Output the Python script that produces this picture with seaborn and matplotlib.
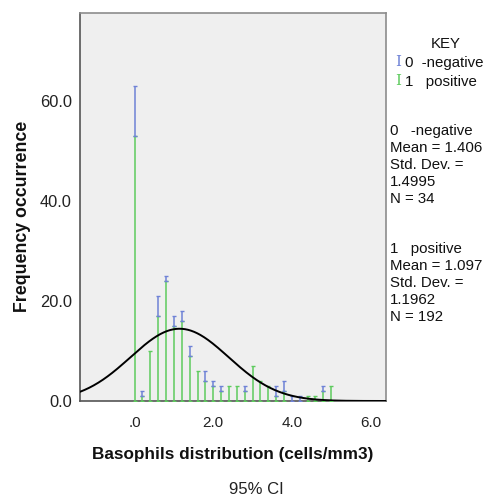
import numpy as np
import pandas as pd
import matplotlib
matplotlib.use("Agg")
import matplotlib.pyplot as plt
import seaborn as sns

# Bin centres (cells/mm3) and frequency per bin for each group
bin_centres = [0.0, 0.2, 0.4, 0.6, 0.8, 1.0, 1.2, 1.4, 1.6, 1.8, 2.0, 2.2, 2.4,
               2.6, 2.8, 3.0, 3.2, 3.4, 3.6, 3.8, 4.0, 4.2, 4.4, 4.6, 4.8, 5.0]
positive_counts = [53, 1, 10, 17, 24, 15, 16, 9, 6, 4, 3, 2, 3,
                   3, 2, 7, 4, 3, 1, 2, 0, 0, 1, 1, 2, 3]
negative_counts = [10, 1, 0, 4, 1, 2, 2, 2, 0, 2, 1, 1, 0,
                   0, 1, 0, 0, 0, 2, 2, 1, 1, 0, 0, 1, 0]

# Group summary statistics
group_labels = ["0   -negative", "1   positive"]
group_means = [1.406, 1.097]
group_sds = [1.4995, 1.1962]
group_ns = [34, 192]

x_ticks = [0.0, 2.0, 4.0, 6.0]
x_tick_labels = [".0", "2.0", "4.0", "6.0"]
y_ticks = [0, 20, 40, 60]
y_tick_labels = ["0.0", "20.0", "40.0", "60.0"]

BLUE = "#6F82D6"
GREEN = "#5DCB5D"
BIN_WIDTH = 0.2

sns.set_style("white", {"axes.facecolor": "#EFEFEF", "axes.edgecolor": "#8C8C8C"})
plt.rcParams["font.family"] = ["Liberation Sans", "DejaVu Sans"]

df = pd.DataFrame({"x": bin_centres, "pos": positive_counts, "neg": negative_counts})
df["top"] = df["pos"] + df["neg"]

fig = plt.figure(figsize=(5.03, 5.00), dpi=100)
ax = fig.add_axes([0.159, 0.198, 0.608, 0.776])

# Positive group: from zero up to its count
pos = df[df["pos"] > 0]
ax.errorbar(pos["x"], pos["pos"], yerr=[pos["pos"], np.zeros(len(pos))],
            fmt="none", ecolor=GREEN, elinewidth=1.1, capsize=1.4, capthick=1.0, zorder=3)

# Negative group stacked on top of the positive count
neg = df[df["neg"] > 0]
ax.errorbar(neg["x"], neg["top"], yerr=[neg["neg"], np.zeros(len(neg))],
            fmt="none", ecolor=BLUE, elinewidth=1.1, capsize=1.4, capthick=1.0, zorder=3)

# Normal curve for the pooled sample
n_tot = sum(group_ns)
mean_tot = sum(m * n for m, n in zip(group_means, group_ns)) / n_tot
ss = sum((n - 1) * s ** 2 + n * (m - mean_tot) ** 2
         for m, s, n in zip(group_means, group_sds, group_ns))
sd_tot = np.sqrt(ss / (n_tot - 1))
xs = np.linspace(-1.39, 6.39, 400)
ys = n_tot * BIN_WIDTH / (sd_tot * np.sqrt(2 * np.pi)) * np.exp(-0.5 * ((xs - mean_tot) / sd_tot) ** 2)
sns.lineplot(x=xs, y=ys, ax=ax, color="black", linewidth=1.4, zorder=4)

ax.set_xlim(-1.39, 6.39)
ax.set_ylim(0, 77.6)
ax.set_xticks(x_ticks)
ax.set_xticklabels(x_tick_labels)
ax.set_yticks(y_ticks)
ax.set_yticklabels(y_tick_labels)
ax.tick_params(axis="both", direction="out", length=5, width=1, color="#444444",
               labelcolor="#222222")
ax.tick_params(axis="y", labelsize=11.8, pad=1)
ax.tick_params(axis="x", labelsize=11, pad=6)
for sp in ax.spines.values():
    sp.set_linewidth(1.2)
ax.spines["bottom"].set_color("#555555")
ax.spines["left"].set_color("#555555")

ax.set_xlabel("Basophils distribution (cells/mm3)", fontsize=12.3, fontweight="bold",
              color="#111111", labelpad=12)
ax.set_ylabel("Frequency occurrence", fontsize=12.8, fontweight="bold",
              color="#111111")
ax.yaxis.set_label_coords(-0.16, 0.477)

fig.text(0.51, 0.022, "95% CI", ha="center", va="center", fontsize=12, color="#222222")

# Key and group statistics on the right
fs = 10.8
fig.text(0.856, 0.912, "KEY", ha="left", va="center", fontsize=fs, color="#111111")
fig.text(0.786, 0.876, "I", ha="left", va="center", fontsize=fs, color=BLUE,
         family=["DejaVu Serif"])
fig.text(0.805, 0.874, "0  -negative", ha="left", va="center", fontsize=fs, color="#111111")
fig.text(0.786, 0.838, "I", ha="left", va="center", fontsize=fs, color=GREEN,
         family=["DejaVu Serif"])
fig.text(0.805, 0.836, "1   positive", ha="left", va="center", fontsize=fs, color="#111111")

block_tops = [0.738, 0.502]
for label, m, s, n, y0 in zip(group_labels, group_means, group_sds, group_ns, block_tops):
    lines = [label, f"Mean = {m:.3f}", "Std. Dev. =", f"{s:.4f}", f"N = {n}"]
    for i, line in enumerate(lines):
        fig.text(0.776, y0 - i * 0.034, line, ha="left", va="center", fontsize=fs,
                 color="#111111")

fig.savefig("out.png", dpi=100, facecolor="white")
